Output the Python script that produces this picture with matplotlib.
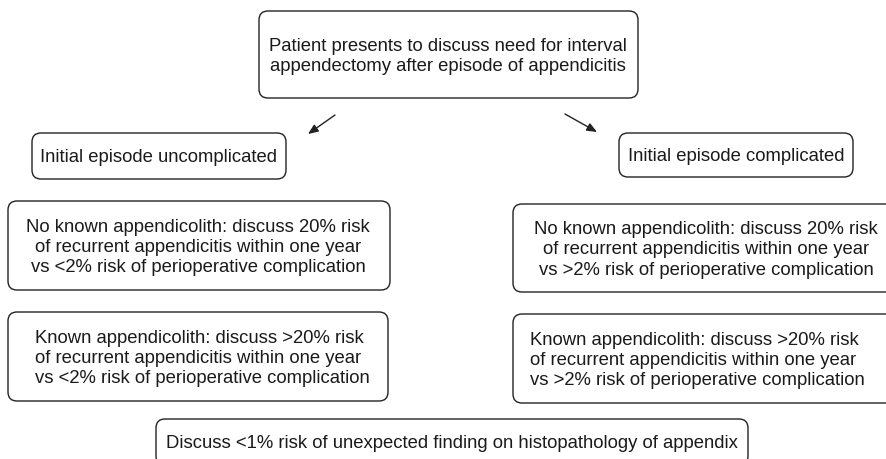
import matplotlib
matplotlib.use('Agg')
import matplotlib.pyplot as plt
from matplotlib.patches import FancyBboxPatch

plt.rcParams['font.family'] = ['Liberation Sans', 'DejaVu Sans']

# box texts
top_text = "Patient presents to discuss need for interval\nappendectomy after episode of appendicitis"
branch_texts = ["Initial episode uncomplicated", "Initial episode complicated"]
no_lith_texts = [
    "No known appendicolith: discuss 20% risk\nof recurrent appendicitis within one year\nvs <2% risk of perioperative complication",
    "No known appendicolith: discuss 20% risk\nof recurrent appendicitis within one year\nvs >2% risk of perioperative complication",
]
lith_texts = [
    "Known appendicolith: discuss >20% risk\nof recurrent appendicitis within one year\nvs <2% risk of perioperative complication",
    "Known appendicolith: discuss >20% risk\nof recurrent appendicitis within one year\nvs >2% risk of perioperative complication",
]
bottom_text = "Discuss <1% risk of unexpected finding on histopathology of appendix"

# layout (pixel coords, y down): x0, y0, x1, y1, text x, text align
layout = [
    (259, 12, 638, 99, 448, 'center', top_text),
    (32, 134, 286, 180, 159, 'center', branch_texts[0]),
    (619, 134, 853, 178, 736, 'center', branch_texts[1]),
    (8, 202, 390, 291, 198, 'center', no_lith_texts[0]),
    (513, 205, 897, 293, 706, 'center', no_lith_texts[1]),
    (8, 313, 388, 402, 35, 'left', lith_texts[0]),
    (513, 315, 897, 404, 530, 'left', lith_texts[1]),
    (156, 420, 748, 466, 452, 'center', bottom_text),
]

W, H = 887, 460
fig = plt.figure(figsize=(W / 100, H / 100), dpi=100)
ax = fig.add_axes([0, 0, 1, 1])
ax.set_xlim(0, W)
ax.set_ylim(H, 0)
ax.axis('off')

for x0, y0, x1, y1, tx, ha, txt in layout:
    box = FancyBboxPatch((x0, y0), x1 - x0, y1 - y0,
                         boxstyle="round,pad=0,rounding_size=9",
                         fc='white', ec='#222222', lw=1.0)
    ax.add_patch(box)
    ax.text(tx, (y0 + y1) / 2 + 1, txt, ha=ha, va='center', multialignment=ha,
            fontsize=13.3, color='#1a1a1a', linespacing=1.25)

# arrows from the top box
for start, end in [((335, 116), (308, 135)), ((565, 115), (597, 133))]:
    ax.annotate('', xy=end, xytext=start,
                arrowprops=dict(arrowstyle='-|>,head_length=0.6,head_width=0.25',
                                color='#222222', lw=1.0, shrinkA=0, shrinkB=0))

fig.savefig('out.png', dpi=100)
